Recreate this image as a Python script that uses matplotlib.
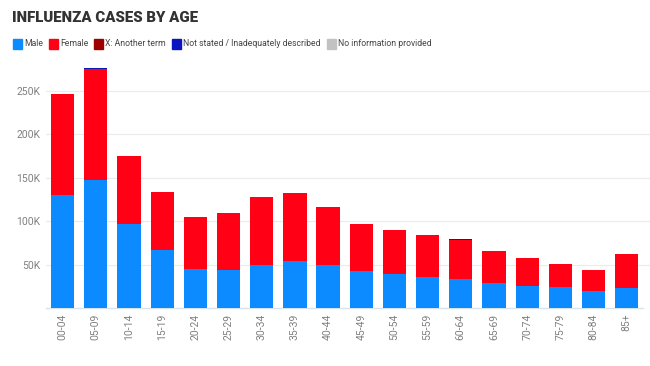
import matplotlib
matplotlib.use("Agg")
import matplotlib.pyplot as plt
from matplotlib.patches import Rectangle
from matplotlib.ticker import FuncFormatter
import numpy as np

categories = ["00-04", "05-09", "10-14", "15-19", "20-24", "25-29", "30-34", "35-39",
              "40-44", "45-49", "50-54", "55-59", "60-64", "65-69", "70-74", "75-79",
              "80-84", "85+"]
male = [130000, 147000, 96500, 67000, 45500, 43500, 49000, 54000, 50000, 42600,
        39000, 36000, 33500, 29000, 25700, 23800, 20000, 23000]
female = [116000, 128000, 78500, 67000, 59500, 66500, 78500, 79000, 66700, 54400,
          51000, 48000, 44500, 36700, 31500, 27200, 23400, 38900]
another_term = [0, 600, 0, 0, 0, 0, 0, 0, 0, 0, 0, 0, 300, 0, 0, 0, 0, 0]
not_stated = [0, 600, 0, 0, 0, 0, 0, 0, 0, 0, 0, 0, 700, 0, 0, 0, 0, 0]
no_info = [0] * 18

series_names = ["Male", "Female", "X: Another term", "Not stated / Inadequately described",
                "No information provided"]
series_colors = ["#0b8bff", "#ff0015", "#9e0000", "#0a14c0", "#c2c2c2"]
series_values = [male, female, another_term, not_stated, no_info]
y_ticks = [50000, 100000, 150000, 200000, 250000]

plt.rcParams['font.family'] = ['Roboto', 'DejaVu Sans']

W, H = 650, 366
fig = plt.figure(figsize=(W / 100, H / 100), dpi=100)
renderer = fig.canvas.get_renderer()

ax_left, ax_right, ax_top, ax_bottom = 46, 650, 60, 308
ax = fig.add_axes([ax_left / W, 1 - ax_bottom / H, (ax_right - ax_left) / W, (ax_bottom - ax_top) / H])

x = np.arange(len(categories))
bottom = np.zeros(len(categories))
for vals, col in zip(series_values, series_colors):
    v = np.array(vals, dtype=float)
    ax.bar(x, v, bottom=bottom, width=0.7, color=col, edgecolor="none", zorder=3)
    bottom += v

ax.set_xlim(-0.5, 17.7)
ax.set_ylim(0, (ax_bottom - ax_top) / 43.4 * 50000)
ax.set_yticks(y_ticks)
ax.yaxis.set_major_formatter(FuncFormatter(lambda v, p: f"{int(v/1000)}K"))
ax.grid(axis="y", color="#ebebeb", linewidth=0.8, zorder=0)
ax.set_xticks(x)
ax.set_xticklabels(categories, rotation=90, fontsize=7.5, color="#808080")
ax.tick_params(axis="x", length=0, pad=4)
ax.tick_params(axis="y", length=0, pad=4, labelsize=7.5, labelcolor="#808080")
for s in ["top", "right", "left"]:
    ax.spines[s].set_visible(False)
ax.spines["bottom"].set_color("#d6e4ee")
ax.spines["bottom"].set_linewidth(1.0)
ax.spines["bottom"].set_bounds(-0.5, 17.5)


def fit_size(text, target_w, base=10.0, **kw):
    t = fig.text(0, 0, text, fontsize=base, **kw)
    w = t.get_window_extent(renderer=renderer).width
    t.remove()
    return base * target_w / w


# title
title = "INFLUENZA CASES BY AGE"
ts = fit_size(title, 186, fontweight="black")
fig.text(12 / W, 1 - 18 / H, title, fontsize=ts, fontweight="black",
         color="#333333", va="center", ha="left")

# legend (manual, chained by measured text width)
ls = fit_size(series_names[3], 138)
lx = 13.0
ly = 44
for name, col in zip(series_names, series_colors):
    fig.patches.append(Rectangle((lx / W, 1 - (ly + 5) / H), 9 / W, 10 / H,
                                 transform=fig.transFigure, color=col, figure=fig))
    t = fig.text((lx + 11) / W, 1 - ly / H, name, fontsize=ls, color="#444444",
                 va="center", ha="left")
    w = t.get_window_extent(renderer=renderer).width
    lx = lx + 11 + w + 6

fig.savefig("out.png", dpi=100)
